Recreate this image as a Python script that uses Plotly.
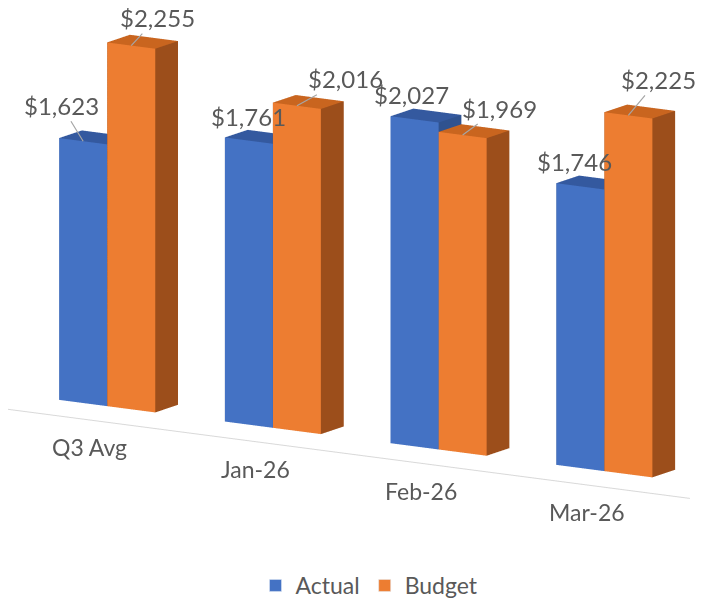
import plotly.graph_objects as go

categories = ["Q3 Avg", "Jan-26", "Feb-26", "Mar-26"]
actual = [1623, 1761, 2027, 1746]
budget = [2255, 2016, 1969, 2225]
series_names = ["Actual", "Budget"]

# style
BAR_W = 0.29
DEPTH = 0.22
FONT = "Lato"
TXT = "#595959"
colors = {
    "Actual": dict(front="#4472C4", side="#2F528F", top="#34599F"),
    "Budget": dict(front="#ED7D31", side="#9C4E1B", top="#C9651F"),
}
FLOOR_Y, FLOOR_Z = -0.15, -55


def boxes(values, offset, cols):
    xs, ys, zs, I, J, K, fc = [], [], [], [], [], [], []
    for ci, v in enumerate(values):
        x0 = ci + offset
        x1 = x0 + BAR_W
        y0, y1 = 0.0, DEPTH
        base = len(xs)
        pts = [(x0, y0, 0), (x1, y0, 0), (x1, y1, 0), (x0, y1, 0),
               (x0, y0, v), (x1, y0, v), (x1, y1, v), (x0, y1, v)]
        for p in pts:
            xs.append(p[0]); ys.append(p[1]); zs.append(p[2])
        faces = [((0, 1, 5), "front"), ((0, 5, 4), "front"),
                 ((1, 2, 6), "side"), ((1, 6, 5), "side"),
                 ((4, 5, 6), "top"), ((4, 6, 7), "top"),
                 ((2, 3, 7), "side"), ((2, 7, 6), "side"),
                 ((3, 0, 4), "side"), ((3, 4, 7), "side"),
                 ((0, 2, 1), "side"), ((0, 3, 2), "side")]
        for (a, b, c), kind in faces:
            I.append(base + a); J.append(base + b); K.append(base + c)
            fc.append(cols[kind])
    return xs, ys, zs, I, J, K, fc


fig = go.Figure()
for name, vals, off in [("Actual", actual, -BAR_W), ("Budget", budget, 0.0)]:
    xs, ys, zs, I, J, K, fc = boxes(vals, off, colors[name])
    fig.add_trace(go.Mesh3d(
        x=xs, y=ys, z=zs, i=I, j=J, k=K, facecolor=fc, flatshading=True,
        lighting=dict(ambient=1.0, diffuse=0.0, specular=0.0, roughness=1.0, fresnel=0.0),
        hoverinfo="skip", showlegend=False, name=name))

# floor front edge
fig.add_trace(go.Scatter3d(
    x=[-0.6, len(categories) - 1 + 0.61], y=[FLOOR_Y, FLOOR_Y], z=[FLOOR_Z, FLOOR_Z],
    mode="lines", line=dict(color="#D9D9D9", width=2),
    hoverinfo="skip", showlegend=False))

# legend proxies
for name in series_names:
    fig.add_trace(go.Bar(x=[None], y=[None], name=name,
                         marker_color=colors[name]["front"]))

ann = []
# category labels
for ci, c in enumerate(categories):
    ann.append(dict(x=ci, y=FLOOR_Y, z=FLOOR_Z, text=c, showarrow=False,
                    xshift=-2, yshift=-27,
                    font=dict(family=FONT, size=23, color=TXT)))

# value labels (pixel offsets of the text from the bar's top edge are styling)
lab_style = {
    ("Actual", 0): dict(arrow=True, ax=-22, ay=-36),
    ("Budget", 0): dict(arrow=True, ax=26, ay=-28),
    ("Actual", 1): dict(arrow=False, ax=0, ay=-24),
    ("Budget", 1): dict(arrow=True, ax=49, ay=-27),
    ("Actual", 2): dict(arrow=False, ax=-3, ay=-25),
    ("Budget", 2): dict(arrow=True, ax=37, ay=-27),
    ("Actual", 3): dict(arrow=False, ax=-6, ay=-25),
    ("Budget", 3): dict(arrow=True, ax=30, ay=-36),
}
for name, vals, off in [("Actual", actual, -BAR_W), ("Budget", budget, 0.0)]:
    for ci, v in enumerate(vals):
        st = lab_style[(name, ci)]
        a = dict(x=ci + off + BAR_W / 2, y=0.0, z=v, text=f"${v:,}",
                 font=dict(family=FONT, size=24, color=TXT))
        if st["arrow"]:
            a.update(showarrow=True, ax=st["ax"], ay=st["ay"], arrowhead=0,
                     arrowwidth=1.2, arrowcolor="#A6A6A6", standoff=0)
        else:
            a.update(showarrow=False, xshift=st["ax"], yshift=-st["ay"])
        ann.append(a)

hidden = dict(visible=False, showbackground=False, showgrid=False,
              zeroline=False, showticklabels=False, title="")
fig.update_layout(
    width=723, height=599,
    margin=dict(l=0, r=0, t=0, b=0),
    paper_bgcolor="white", plot_bgcolor="white",
    font=dict(family=FONT, color=TXT),
    xaxis=dict(visible=False), yaxis=dict(visible=False),
    scene=dict(
        domain=dict(x=[0, 1], y=[0.08, 1]),
        xaxis=dict(range=[-0.8, 3.7], **hidden),
        yaxis=dict(range=[-0.2, 0.3], **hidden),
        zaxis=dict(range=[-100, 2300], **hidden),
        aspectmode="manual",
        aspectratio=dict(x=3.19, y=0.355, z=1.437),
        camera=dict(eye=dict(x=0.68, y=-0.9745, z=0.161),
                    center=dict(x=0.05, y=0.0355, z=-0.094),
                    up=dict(x=0, y=0, z=1),
                    projection=dict(type="orthographic")),
        bgcolor="white",
        annotations=ann,
    ),
    showlegend=True,
    legend=dict(orientation="h", x=0.5, xanchor="center", y=0.0, yanchor="bottom",
                font=dict(family=FONT, size=23, color=TXT)),
)

fig.write_html("out.html")
